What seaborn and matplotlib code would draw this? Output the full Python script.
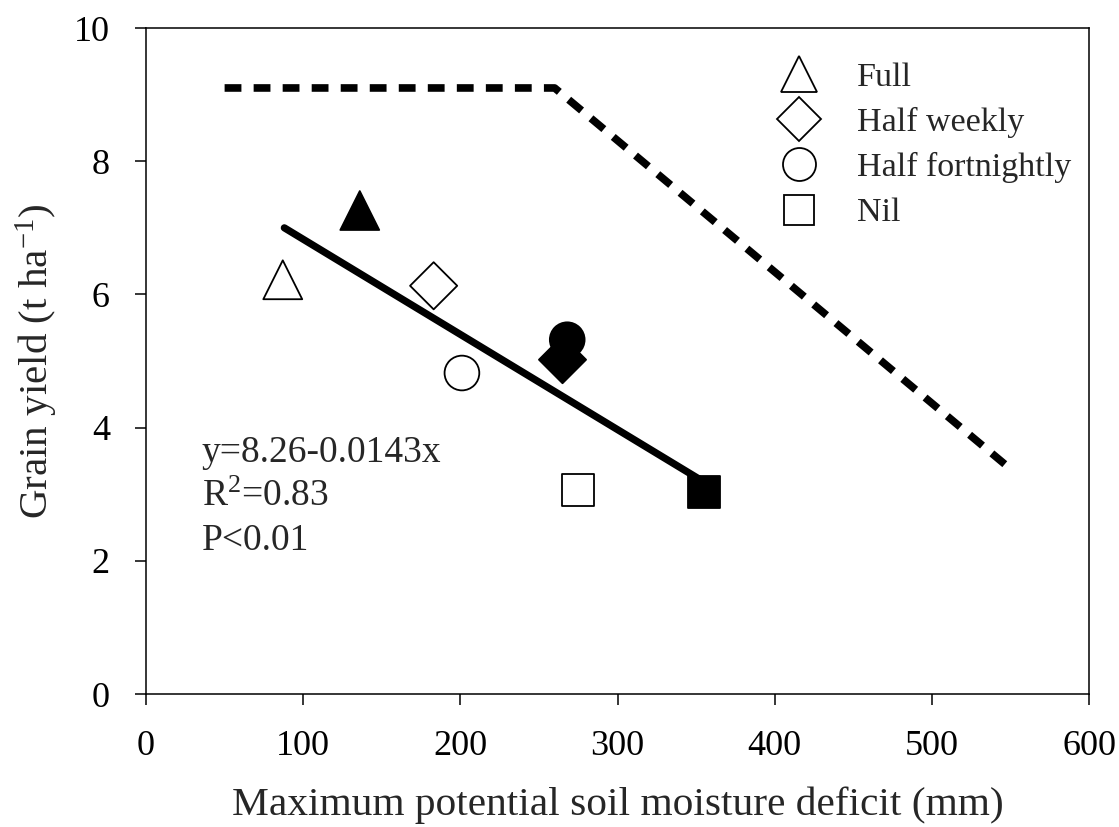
import matplotlib
matplotlib.use("Agg")
import matplotlib.pyplot as plt
from matplotlib.lines import Line2D
import seaborn as sns
import pandas as pd

# ---- data ----
treatments = ["Full", "Half weekly", "Half fortnightly", "Nil",
              "Full", "Half weekly", "Half fortnightly", "Nil"]
fill = ["open", "open", "open", "open", "filled", "filled", "filled", "filled"]
deficit_mm = [87, 183, 201, 275, 136, 265, 268, 355]
yield_t = [6.22, 6.13, 4.82, 3.06, 7.26, 5.02, 5.32, 3.03]

reg_x = [88, 356]
reg_y = [7.00, 3.17]

pot_x = [50, 260, 550]
pot_y = [9.10, 9.10, 3.38]

legend_labels = ["Full", "Half weekly", "Half fortnightly", "Nil"]
x_ticks = [0, 100, 200, 300, 400, 500, 600]
y_ticks = [0, 2, 4, 6, 8, 10]
annot_lines = ["y=8.26-0.0143x", "R$^{2}$=0.83", "P<0.01"]
annot_y = [3.48, 2.82, 2.16]

# ---- style ----
sns.set_theme(style="ticks")
plt.rcParams["font.family"] = ["Liberation Serif", "DejaVu Serif"]
plt.rcParams["mathtext.fontset"] = "custom"
plt.rcParams["mathtext.rm"] = "Liberation Serif"
plt.rcParams["mathtext.it"] = "Liberation Serif:italic"

markers = {"Full": "^", "Half weekly": "D", "Half fortnightly": "o", "Nil": "s"}
sizes_map = {"Full": 28, "Half weekly": 24, "Half fortnightly": 25, "Nil": 23}

df = pd.DataFrame({"treatment": treatments, "fill": fill,
                   "x": deficit_mm, "y": yield_t})

fig = plt.figure(figsize=(11.19, 8.27), dpi=100)
ax = fig.add_axes([0.1305, 0.1608, 0.8427, 0.8053])

sns.lineplot(x=pot_x, y=pot_y, ax=ax, color="black", lw=5.5,
             dashes=False, sort=False, zorder=1).lines[-1].set_dashes([2.2, 1.6])
sns.lineplot(x=reg_x, y=reg_y, ax=ax, color="black", lw=5.2, zorder=1)

for tr in legend_labels:
    sub = df[df["treatment"] == tr]
    sns.scatterplot(data=sub, x="x", y="y", hue="fill",
                    palette={"open": "white", "filled": "black"},
                    marker=markers[tr], s=sizes_map[tr] ** 2,
                    edgecolor="black", linewidth=1.3, ax=ax,
                    legend=False, zorder=3)

ax.set_xlim(0, 600)
ax.set_ylim(0, 10)
ax.set_xticks(x_ticks)
ax.set_yticks(y_ticks)
ax.tick_params(direction="out", length=8, width=1.1, labelsize=26,
               colors="black", pad=18)
for sp in ax.spines.values():
    sp.set_linewidth(1.1)
    sp.set_color("black")

ax.set_xlabel("Maximum potential soil moisture deficit (mm)", fontsize=29.8,
              labelpad=17)
ax.set_ylabel("Grain yield (t ha$^{-1}$)", fontsize=29.5, labelpad=10)

for txt, yy in zip(annot_lines, annot_y):
    ax.text(35.5, yy, txt, fontsize=27, va="baseline", ha="left")

handles = [Line2D([], [], marker=markers[t], ls="none", mfc="white",
                  mec="black", mew=1.3, ms=sizes_map[t] * 0.95)
           for t in legend_labels]
ax.legend(handles, legend_labels, loc="upper right", frameon=False,
          fontsize=24.5, bbox_to_anchor=(1.006, 0.985), handletextpad=0.7,
          labelspacing=0.42, borderaxespad=0.4, borderpad=0.3)

fig.savefig("out.png", dpi=100)
